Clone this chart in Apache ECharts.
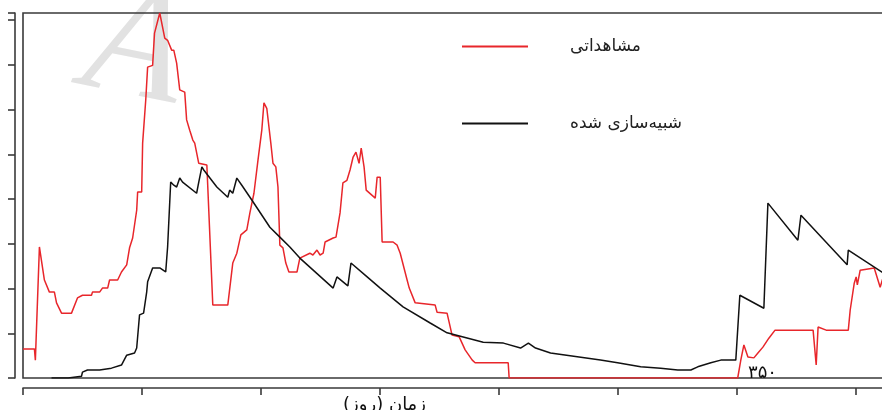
<!DOCTYPE html>
<html>
<head>
<meta charset="utf-8">
<script src="https://cdn.jsdelivr.net/npm/echarts@6/dist/echarts.min.js"></script>
<style>
  html, body { margin: 0; padding: 0; background: #fff; }
  #myChart { width: 882px; height: 410px; }
</style>
</head>
<body>
<div id="myChart"></div>
<script>
// names
var seriesNames = ['مشاهداتی', 'شبیه‌سازی شده'];
var xTitle = 'زمان (روز)';
var markedTick = 350;
var markedTickText = '۳۵۰';

// observed (day, value)
var observed = [
  [50,0.65],[54.8,0.65],[55.2,0.40],[56.9,2.93],[59,2.19],[61.1,1.92],[63.2,1.92],[64.1,1.68],
  [66.2,1.45],[70.4,1.45],[72.9,1.79],[75,1.85],[78.8,1.85],[79.2,1.92],[82.2,1.92],[83.4,2.01],
  [85.6,2.01],[86.4,2.19],[89.8,2.19],[91.4,2.37],[93.6,2.53],[94.8,2.91],[96.1,3.13],[97.8,3.75],
  [98.2,4.16],[99.9,4.16],[100.3,5.25],[101.6,6.21],[102.4,6.95],[104.5,6.99],[105.3,7.71],[107.5,8.16],
  [109.6,7.60],[110.8,7.55],[112.5,7.33],[113.4,7.33],[114.6,7.04],[115.9,6.44],[118,6.39],[118.8,5.77],
  [120.1,5.54],[121.4,5.32],[122.2,5.25],[123.9,4.80],[127.3,4.76],[128.1,4.72],[129.8,1.63],[136.1,1.63],
  [138.2,2.57],[139.9,2.79],[141.6,3.20],[144.1,3.31],[145.4,3.69],[147.1,4.13],[148.8,4.87],[150.4,5.54],
  [151.3,6.15],[152.5,6.03],[154.2,5.25],[155.1,4.80],[156.3,4.72],[157.2,4.27],[158,2.97],[159.3,2.91],
  [160.5,2.57],[161.8,2.37],[165.2,2.37],[166.4,2.68],[170.6,2.79],[171.9,2.75],[173.6,2.86],[174.9,2.75],
  [176.2,2.79],[177,3.04],[180.4,3.13],[181.6,3.15],[183.3,3.69],[184.5,4.36],[186.2,4.42],[187.5,4.65],
  [188.8,4.94],[190,5.05],[191.3,4.80],[192.2,5.14],[193.4,4.72],[194.3,4.20],[198.1,4.02],[198.9,4.49],
  [200.2,4.49],[201,3.04],[205.6,3.04],[207.3,2.97],[208.6,2.79],[211.5,2.19],[212.4,2.01],[214.9,1.68],
  [223.3,1.63],[224.1,1.47],[228.3,1.45],[230.4,0.96],[233.4,0.92],[235.9,0.63],[238.9,0.40],[240.1,0.34],
  [254,0.34],[254.4,0],[350.5,0],[351.8,0.40],[353.1,0.74],[354.8,0.47],[357.3,0.45],[359,0.56],
  [361.1,0.69],[363.6,0.89],[366.2,1.07],[382.2,1.07],[383.5,0.29],[384.3,1.14],[387.7,1.07],[397,1.07],
  [397.8,1.52],[399.5,2.12],[400.3,2.26],[400.8,2.08],[402,2.41],[407.9,2.46],[410.4,2.03],[411.7,2.26]
];

// simulated (day, value)
var simulated = [
  [62,0],[69,0],[69.5,0.04],[74.6,0.04],[75,0.13],[77.1,0.18],[82.2,0.18],[83,0.22],
  [87.2,0.22],[87.7,0.25],[91.4,0.29],[93.6,0.51],[96.9,0.56],[97.8,0.67],[99,1.41],[100.7,1.45],
  [102,1.92],[102.4,2.15],[104.5,2.46],[107.5,2.46],[110,2.37],[110.8,2.93],[112.1,4.38],[113.4,4.31],
  [114.6,4.27],[115.9,4.47],[117.1,4.38],[123,4.13],[123.9,4.38],[125.2,4.72],[126,4.65],[131.5,4.27],
  [136.1,4.04],[136.9,4.20],[138.2,4.13],[139.9,4.47],[142,4.31],[146.2,3.98],[153.8,3.37],[158,3.15],
  [162.2,2.93],[166.4,2.68],[180.4,2.01],[182,2.26],[186.6,2.06],[187.9,2.57],[194.7,2.26],[200.2,2.01],
  [209.8,1.59],[221.2,1.23],[228.3,1.01],[243.5,0.80],[252,0.78],[259.2,0.67],[262.5,0.78],[265.5,0.67],
  [271.8,0.56],[292.8,0.40],[300,0.34],[309.7,0.25],[318.1,0.22],[325.3,0.18],[330.8,0.18],[333.7,0.25],
  [339.2,0.34],[343.4,0.40],[349.7,0.40],[351.4,1.85],[361.5,1.56],[363.2,3.91],[375.8,3.08],[377.1,3.64],
  [396.5,2.53],[397,2.86],[411.7,2.35]
];

var myChart = echarts.init(document.getElementById('myChart'), null, {renderer: 'canvas'});

myChart.setOption({
    animation: false,
    backgroundColor: '#fff',
    grid: {
        show: true,
        left: 23, top: 13, width: 880, height: 365,
        outerBoundsMode: 'none',
        containLabel: false,
        borderColor: '#3a3a3a', borderWidth: 1.6
    },
    legend: {
        orient: 'vertical',
        left: 462, top: 38,
        padding: 0,
        icon: 'rect',
        itemWidth: 66, itemHeight: 2,
        itemGap: 60,
        textStyle: {
            fontFamily: 'DejaVu Sans', fontSize: 17, color: '#222',
            padding: [0, 0, 0, 37]
        },
        data: seriesNames
    },
    xAxis: {
        type: 'value',
        min: 50, max: 420, interval: 50,
        offset: 10,
        axisLine: {show: true, onZero: false, lineStyle: {color: '#3a3a3a', width: 1.6}},
        axisTick: {show: true, length: 7, lineStyle: {color: '#3a3a3a', width: 1.6}},
        axisLabel: {show: false},
        splitLine: {show: false}
    },
    yAxis: {
        type: 'value',
        min: 0, max: 8.16, interval: 1,
        offset: 8,
        axisLine: {show: true, onZero: false, lineStyle: {color: '#3a3a3a', width: 1.6}},
        axisTick: {show: true, length: 7, lineStyle: {color: '#3a3a3a', width: 1.6}},
        axisLabel: {show: false},
        splitLine: {show: false}
    },
    series: [
        {
            name: seriesNames[0], type: 'line', data: observed,
            showSymbol: false, symbol: 'none',
            lineStyle: {color: '#e8262b', width: 1.5},
            itemStyle: {color: '#e8262b'}
        },
        {
            name: seriesNames[1], type: 'line', data: simulated,
            showSymbol: false, symbol: 'none',
            lineStyle: {color: '#111', width: 1.5},
            itemStyle: {color: '#111'}
        }
    ]
});

// tick mark text and axis title, placed through the chart's scales
var p350 = myChart.convertToPixel({gridIndex: 0}, [markedTick, 0]);
var pTitle = myChart.convertToPixel({gridIndex: 0}, [202, 0]);
myChart.setOption({
    graphic: [
        {
            type: 'text', z: -1, left: 72, top: -36, rotation: -0.2,
            style: {text: 'A', fill: '#e2e2e2', font: 'italic 160px "Liberation Serif"'}
        },
        {
            type: 'text', x: p350[0] + 26, y: p350[1] - 5,
            style: {text: markedTickText, fill: '#111', font: '18px "DejaVu Sans"', align: 'center', verticalAlign: 'middle'}
        },
        {
            type: 'text', x: pTitle[0], y: pTitle[1] + 27,
            style: {text: xTitle, fill: '#111', font: '18px "DejaVu Sans"', align: 'center', verticalAlign: 'middle'}
        }
    ]
});
</script>
</body>
</html>
